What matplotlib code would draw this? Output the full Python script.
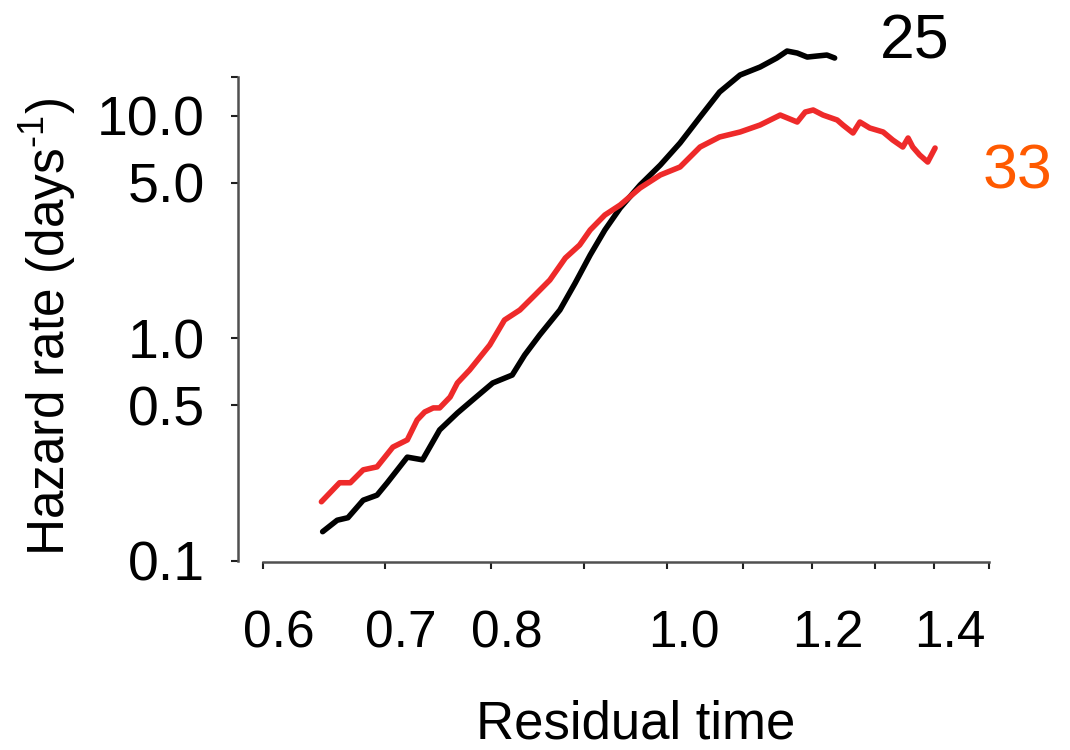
import matplotlib
matplotlib.use("Agg")
import matplotlib.pyplot as plt
import matplotlib.transforms as mtransforms

plt.rcParams["font.family"] = ["Liberation Sans", "DejaVu Sans"]
plt.rcParams["mathtext.fontset"] = "custom"
plt.rcParams["mathtext.rm"] = "Liberation Sans"

# residual time vs hazard rate, two groups
t25 = [0.647, 0.659, 0.668, 0.681, 0.693, 0.702, 0.720, 0.734, 0.750, 0.767,
       0.782, 0.802, 0.822, 0.835, 0.851, 0.873, 0.890, 0.907, 0.924, 0.942,
       0.966, 0.991, 1.016, 1.042, 1.068, 1.096, 1.124, 1.148, 1.163, 1.178,
       1.193, 1.208, 1.223, 1.235]
h25 = [0.135, 0.152, 0.156, 0.187, 0.197, 0.224, 0.292, 0.284, 0.387, 0.461,
       0.528, 0.629, 0.683, 0.840, 1.034, 1.339, 1.770, 2.365, 3.064, 3.847,
       4.881, 6.001, 7.541, 9.867, 12.78, 15.24, 16.55, 18.17, 19.53, 19.13,
       18.35, 18.55, 18.74, 18.17]

t33 = [0.646, 0.661, 0.670, 0.681, 0.693, 0.707, 0.720, 0.729, 0.736, 0.744,
       0.750, 0.760, 0.767, 0.779, 0.799, 0.814, 0.830, 0.846, 0.862, 0.879,
       0.895, 0.907, 0.924, 0.942, 0.966, 0.991, 1.016, 1.042, 1.068, 1.096,
       1.124, 1.153, 1.178, 1.190, 1.202, 1.217, 1.239, 1.248, 1.264, 1.275,
       1.291, 1.313, 1.329, 1.346, 1.355, 1.363, 1.375, 1.389, 1.402]
h33 = [0.184, 0.224, 0.224, 0.256, 0.264, 0.324, 0.349, 0.429, 0.466, 0.486,
       0.486, 0.544, 0.629, 0.720, 0.932, 1.207, 1.339, 1.564, 1.826, 2.293,
       2.623, 3.064, 3.579, 3.969, 4.733, 5.415, 5.882, 7.233, 8.023, 8.449,
       9.083, 10.07, 9.369, 10.39, 10.61, 10.07, 9.565, 9.083, 8.362, 9.369,
       8.805, 8.449, 7.777, 7.233, 7.940, 7.233, 6.660, 6.193, 7.158]

xticks = [0.6, 0.7, 0.8, 0.9, 1.0, 1.1, 1.2, 1.3, 1.4, 1.5]
xlabels = ["0.6", "0.7", "0.8", "", "1.0", "", "1.2", "", "1.4", ""]
yticks = [0.1, 0.5, 1.0, 5.0, 10.0, 15.0]
ylabels = ["0.1", "0.5", "1.0", "5.0", "10.0", ""]

fig = plt.figure(figsize=(10.7, 7.5), dpi=100)
ax = fig.add_axes([0.2224, 0.2507, 0.7028, 0.696])

ax.plot(t25, h25, color="black", lw=4, solid_capstyle="round", clip_on=False)
ax.plot(t33, h33, color="#ee2a2a", lw=4, solid_capstyle="round", clip_on=False)

ax.set_xscale("log")
ax.set_yscale("log")
ax.set_xlim(0.5814, 1.5026)
ax.set_ylim(0.09866, 21.9)

ax.minorticks_off()
ax.set_xticks(xticks)
ax.set_xticklabels(xlabels)
ax.set_yticks(yticks)
ax.set_yticklabels(ylabels)

for side in ["top", "right"]:
    ax.spines[side].set_visible(False)
for side in ["left", "bottom"]:
    ax.spines[side].set_color("#505050")
    ax.spines[side].set_linewidth(1.8)
ax.spines["left"].set_bounds(0.1, 15.0)
ax.spines["bottom"].set_bounds(0.6, 1.5)

ax.tick_params(axis="both", which="major", direction="out", length=5,
               width=1.5, color="#202020")
ax.tick_params(axis="y", pad=19, labelsize=40)
ax.tick_params(axis="x", pad=29, labelsize=37)

# tick labels sit a little right of their ticks
shift = mtransforms.ScaledTranslation(16 / 100, 0, fig.dpi_scale_trans)
for lab in ax.get_xticklabels():
    lab.set_transform(lab.get_transform() + shift)

ax.set_xlabel("Residual time", fontsize=38)
ax.xaxis.set_label_coords(0.529, -0.264)
ax.set_ylabel("Hazard rate (days$^{\\mathregular{\u20101}}$)", fontsize=37)
ax.yaxis.set_label_coords(-0.212, 0.45)

ax.text(1.308, 21.4, "25", fontsize=45, color="black", ha="left", va="center",
        clip_on=False)
ax.text(1.489, 5.58, "33", fontsize=45, color="#ff5a00", ha="left", va="center",
        clip_on=False)

fig.savefig("out.png", dpi=100)
